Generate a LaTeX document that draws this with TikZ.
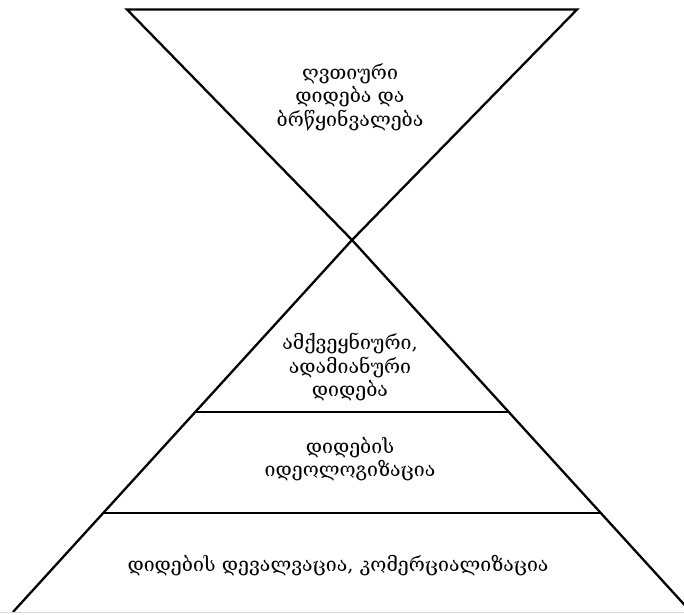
\documentclass[tikz,border=0pt]{standalone}
\usepackage{fontspec}
\newfontfamily\georgianfont{DejaVu Serif}
\usetikzlibrary{calc}
\definecolor{tierline}{HTML}{000000}
\definecolor{pageedge}{HTML}{D9D9D9}

\begin{document}
\begin{tikzpicture}[
        x=1pt, y=-1pt,
        tieredge/.style={line width=2.3pt, tierline},
        tiertext/.style={
            align=center,
            inner sep=0pt,
            font=\georgianfont\fontsize{19.5}{23.5}\selectfont
        }
    ]
        \useasboundingbox (0,0) rectangle (684,614);

        % upper, inverted triangle
        \coordinate (topleft) at (127,9.5);
        \coordinate (topright) at (577,9.5);
        \coordinate (apex) at (352,240);
        % lower triangle, base runs past the frame
        \coordinate (baseleft) at (13,612);
        \coordinate (baseright) at (691,612);
        \coordinate (midleft) at ($(apex)!0.4624!(baseleft)$);
        \coordinate (midright) at ($(apex)!0.4624!(baseright)$);
        \coordinate (lowleft) at ($(apex)!0.7339!(baseleft)$);
        \coordinate (lowright) at ($(apex)!0.7339!(baseright)$);

        \draw[tieredge] (topleft) -- (topright) -- (apex) -- cycle;
        \draw[tieredge] (baseleft) -- (apex) -- (baseright);
        \draw[tieredge] (midleft) -- (midright);
        \draw[tieredge] (lowleft) -- (lowright);
        \draw[pageedge] (0,612.5) -- (684,612.5);

        \node[tiertext] (divine) at (350,97)
            {ღვთიური\\დიდება და\\ბრწყინვალება};
        \node[tiertext] (earthly) at (350,367)
            {ამქვეყნიური,\\ადამიანური\\დიდება};
        \node[tiertext] (ideology) at (350,459)
            {დიდების\\იდეოლოგიზაცია};
        \node[tiertext] (devalue) at (338,566)
            {დიდების დევალვაცია, კომერციალიზაცია};
    \end{tikzpicture}
\end{document}
